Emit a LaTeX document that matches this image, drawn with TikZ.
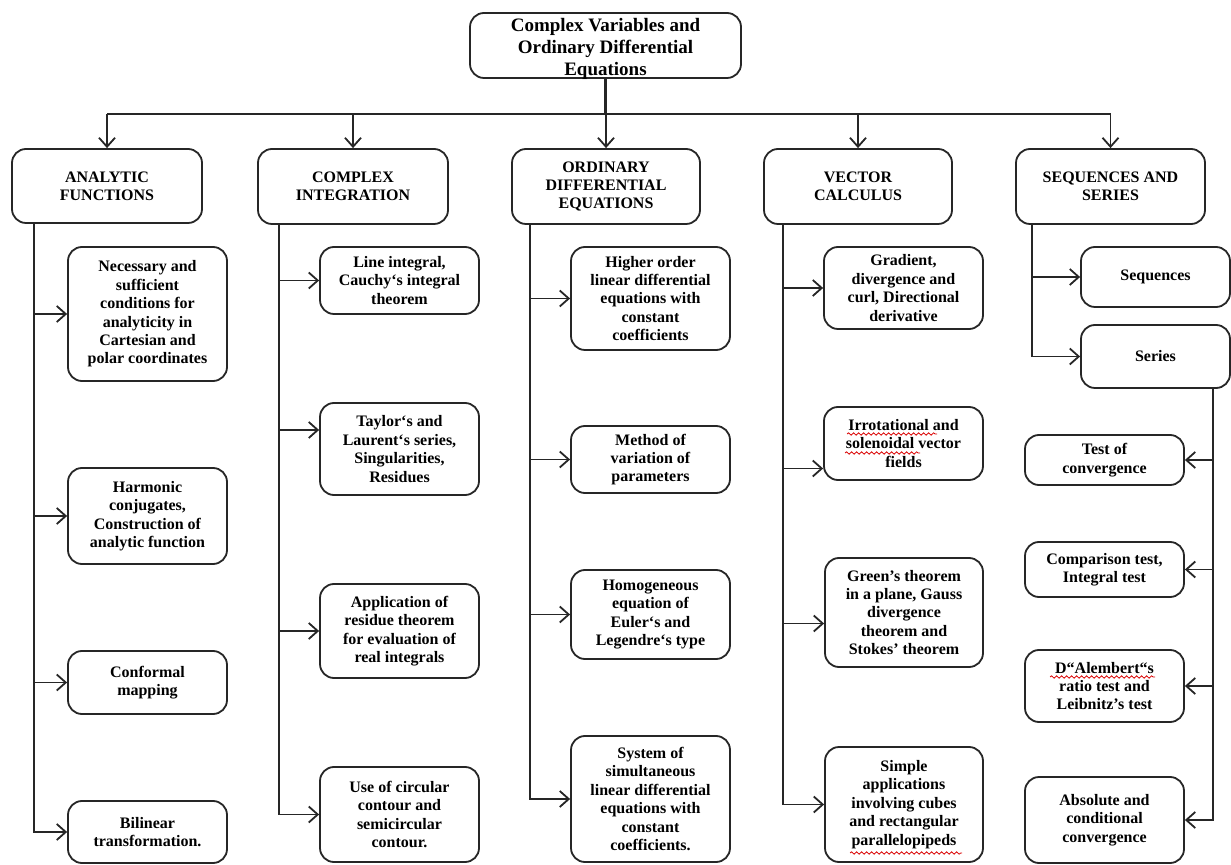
\documentclass[tikz,border=0pt]{standalone}
\usepackage{fontspec}
\setmainfont{Liberation Serif}
\usetikzlibrary{arrows.meta,calc,decorations.pathmorphing}
% \bx[style]{name}{x1}{y1}{x2}{y2}{text}: a box given by its corners
\newcommand\bx[7][box]{%
  \pgfmathsetmacro\bxw{(#5-#3)*0.5}%
  \pgfmathsetmacro\bxh{(#6-#4)*0.5}%
  \node[#1, minimum width=\bxw pt, minimum height=\bxh pt] (#2)
    at ({(#3+#5)/2},{(#4+#6)/2}) {#7};%
}
\begin{document}
\begin{tikzpicture}[x=0.5pt,y=-0.5pt,
  box/.style={draw=black!85, line width=0.9pt, rounded corners=7pt, inner sep=0pt,
    align=center, font=\bfseries\fontsize{8}{9.2}\selectfont},
  titletext/.style={inner sep=0pt, align=center, font=\bfseries\fontsize{9.5}{11}\selectfont},
  link/.style={line width=0.9pt, draw=black!85},
  arr/.style={link, -{Straight Barb[length=4.5pt,width=8pt,line width=0.9pt]}},
  spell/.style={draw=red!85!black, line width=0.4pt, decorate,
    decoration={snake, amplitude=0.6pt, segment length=2.5pt}}
]
\useasboundingbox (0,0) rectangle (1231,865);

% title
\bx{root}{470}{13}{741}{78}{}
\node[titletext] (roottext) at ($(root.center)+(0,3)$)
  {Complex Variables and\\Ordinary Differential\\Equations};

% main topics
\bx{af}{12}{149}{202}{223}{ANALYTIC\\FUNCTIONS}
\bx{ci}{258}{149}{448}{224}{COMPLEX\\INTEGRATION}
\bx{ode}{512}{149}{700}{224}{ORDINARY\\DIFFERENTIAL\\EQUATIONS}
\bx{vc}{764}{149}{952}{224}{VECTOR\\CALCULUS}
\bx{ss}{1016}{149}{1205}{224}{SEQUENCES AND\\SERIES}

% analytic functions
\bx{nec}{68}{247}{227}{381}{Necessary and\\sufficient\\conditions for\\analyticity in\\Cartesian and\\polar coordinates}
\bx{har}{68}{468}{227}{564}{Harmonic\\conjugates,\\Construction of\\analytic function}
\bx{con}{68}{651}{227}{714}{Conformal\\mapping}
\bx{bil}{68}{801}{227}{863}{Bilinear\\transformation.}

% complex integration
\bx{lin}{320}{247}{479}{314}{Line integral,\\Cauchy‘s integral\\theorem}
\bx{tay}{320}{403}{479}{495}{Taylor‘s and\\Laurent‘s series,\\Singularities,\\Residues}
\bx{app}{320}{584}{479}{678}{Application of\\residue theorem\\for evaluation of\\real integrals}
\bx{use}{320}{767}{479}{862}{Use of circular\\contour and\\semicircular\\contour.}

% ordinary differential equations
\bx{hig}{571}{247}{730}{350}{Higher order\\linear differential\\equations with\\constant\\coefficients}
\bx{met}{571}{426}{730}{493}{Method of\\variation of\\parameters}
\bx{hom}{571}{570}{730}{659}{Homogeneous\\equation of\\Euler‘s and\\Legendre‘s type}
\bx{sys}{571}{736}{730}{862}{System of\\simultaneous\\linear differential\\equations with\\constant\\coefficients.}

% vector calculus
\bx{gra}{824}{247}{983}{329}{Gradient,\\divergence and\\curl, Directional\\derivative}
\bx{irr}{824}{407}{983}{480}{Irrotational and\\solenoidal vector\\fields}
\bx{gre}{825}{558}{983}{667}{Green’s theorem\\in a plane, Gauss\\divergence\\theorem and\\Stokes’ theorem}
\bx{sim}{825}{747}{983}{862}{Simple\\applications\\involving cubes\\and rectangular\\parallelopipeds}

% sequences and series
\bx{seq}{1081}{247}{1230}{307}{Sequences}
\bx{ser}{1081}{325}{1230}{388}{Series}
\bx{tst}{1025}{435}{1184}{485}{Test of\\convergence}
\bx{cmp}{1025}{542}{1184}{597}{Comparison test,\\Integral test}
\bx{dal}{1025}{650}{1184}{722}{D“Alembert“s\\ratio test and\\Leibnitz's test}
\bx{abs}{1025}{777}{1184}{863}{Absolute and\\conditional\\convergence}

% junction points
\coordinate (bus) at (606,114);
\coordinate (ta) at (34,223);
\coordinate (tc) at (279,224);
\coordinate (to) at (530,224);
\coordinate (tv) at (783,224);
\coordinate (ts) at (1032,224);
\coordinate (tr) at (1213,388);
\coordinate (tayin) at ($(tay.west)+(0,-19)$);
\coordinate (irrin) at ($(irr.west)+(0,25)$);
\coordinate (grein) at ($(gre.west)+(0,11)$);

% title to topics
\draw[link, line width=1.4pt] (root.south) -- (root.south |- bus);
\draw[link] (af.north |- bus) -- (ss.north |- bus);
\foreach \n in {af,ci,ode,vc,ss} \draw[arr] (\n.north |- bus) -- (\n.north);

% analytic functions
\draw[arr] (ta) |- (bil.west);
\foreach \n in {nec,har,con} \draw[arr] (ta |- \n.west) -- (\n.west);

% complex integration
\draw[arr] (tc) |- (use.west);
\draw[arr] (tc |- lin.west) -- (lin.west);
\draw[arr] (tc |- tayin) -- (tayin);
\draw[arr] (tc |- app.west) -- (app.west);

% ordinary differential equations
\draw[arr] (to) |- (sys.west);
\foreach \n in {hig,met,hom} \draw[arr] (to |- \n.west) -- (\n.west);

% vector calculus
\draw[arr] (tv) |- (sim.west);
\draw[arr] (tv |- gra.west) -- (gra.west);
\draw[arr] (tv |- irrin) -- (irrin);
\draw[arr] (tv |- grein) -- (grein);

% sequences and series
\draw[arr] (ts) |- (ser.west);
\draw[arr] (ts |- seq.west) -- (seq.west);
\draw[arr, line width=1.4pt] (tr) |- (abs.east);
\foreach \n in {tst,cmp,dal} \draw[arr] (tr |- \n.east) -- (\n.east);

% spelling marks
\draw[spell] (847,434) -- (937,434);
\draw[spell] (845,453) -- (920,453);
\draw[spell] (1050,677) -- (1155,677);
\draw[spell] (850,853) -- (962,853);
\end{tikzpicture}
\end{document}
